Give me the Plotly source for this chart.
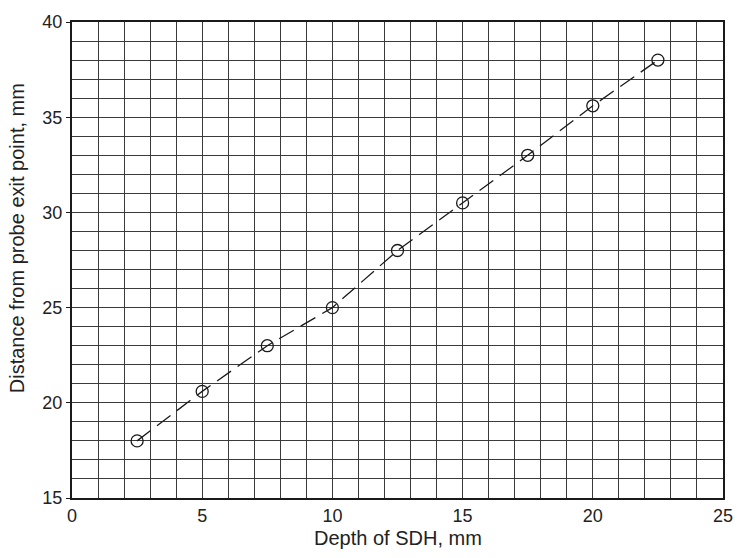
import plotly.graph_objects as go

# Distance from probe exit point versus side-drilled-hole depth
depth_mm = [2.5, 5, 7.5, 10, 12.5, 15, 17.5, 20, 22.5]
distance_mm = [18, 20.6, 23, 25, 28, 30.5, 33, 35.6, 38]

x_ticks = [0, 5, 10, 15, 20, 25]
y_ticks = [15, 20, 25, 30, 35, 40]

x_title = "Depth of SDH, mm"
y_title = "Distance from probe exit point, mm"

fig = go.Figure()
fig.add_trace(go.Scatter(
    x=depth_mm, y=distance_mm,
    mode="lines+markers",
    line=dict(color="#1a1a1a", width=1.3, dash="17px,8px"),
    marker=dict(symbol="circle-open", size=12, color="#1a1a1a", line=dict(width=1.3)),
    showlegend=False,
))

font = dict(family="Liberation Sans, Arial, sans-serif", color="#222")
axis_common = dict(
    showgrid=True, gridcolor="#3a3a3a", gridwidth=1,
    showline=True, linecolor="#1a1a1a", linewidth=2, mirror=True,
    zeroline=False, tickfont=dict(size=18, **font),
    minor=dict(showgrid=True, gridcolor="#3a3a3a", gridwidth=1, dtick=1),
)

fig.update_xaxes(range=[0, 25], tickvals=x_ticks, ticks="", **axis_common)
fig.update_yaxes(range=[15, 40], tickvals=y_ticks, ticks="outside", ticklen=4,
                 tickcolor="#1a1a1a", **axis_common)

# axis titles placed as paper annotations
fig.add_annotation(text=x_title, xref="paper", yref="paper", x=0.5, y=-0.085,
                   xanchor="center", yanchor="middle", showarrow=False,
                   font=dict(size=20, **font))
fig.add_annotation(text=y_title, xref="paper", yref="paper", x=-0.085, y=0.545,
                   xanchor="center", yanchor="middle", showarrow=False, textangle=-90,
                   font=dict(size=20, **font))

fig.update_layout(
    width=745, height=558,
    margin=dict(l=72, r=18, t=17, b=60),
    paper_bgcolor="white", plot_bgcolor="white",
    font=font,
)

fig.write_html("out.html")
